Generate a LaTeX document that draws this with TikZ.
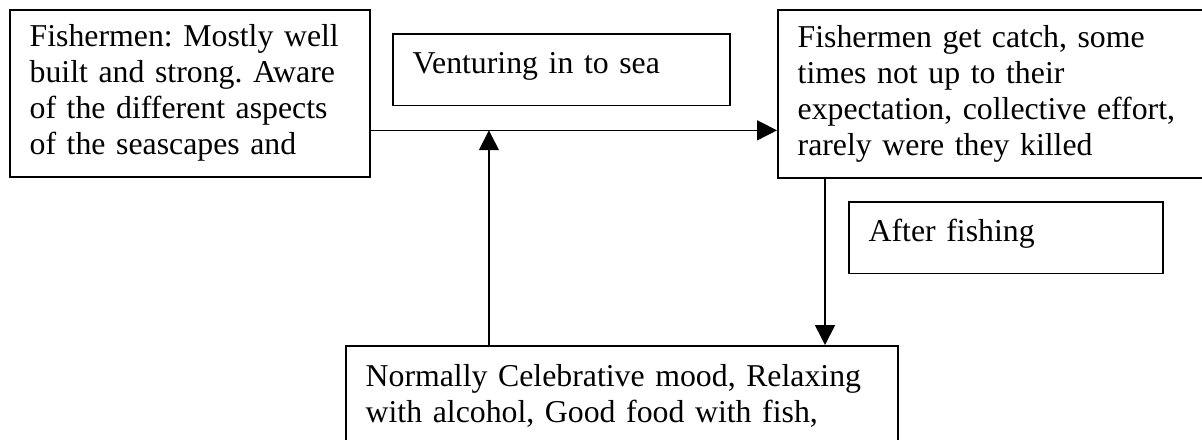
\documentclass[tikz,border=0pt]{standalone}
\usepackage{fontspec}
\setmainfont{Liberation Serif}
\usetikzlibrary{arrows.meta,calc}
\frenchspacing

\tikzset{
  stage/.style={draw, line width=0.6pt, anchor=north west, align=left,
    inner xsep=7.5pt, font=\fontsize{12}{13.6}\selectfont},
  tag/.style={text height=12pt, text depth=9pt, inner ysep=3pt},
  flow/.style={line width=0.6pt, -{Triangle[length=7.5pt,width=7.5pt]}}
}

\begin{document}
\begin{tikzpicture}[x=0.3774pt, y=-0.3774pt]

    \path[use as bounding box, clip] (0,0) rectangle (1202,439);

    \node[stage, text width=120.9pt, minimum height=63pt] (fishermen) at (9,9)
      {Fishermen: Mostly well\\built and strong. Aware\\of the different aspects\\of the seascapes and};

    \node[stage, tag, text width=112.2pt] (venture) at (392,33) {Venturing in to sea};

    \node[stage, text width=151.1pt, minimum height=63.4pt] (catch) at (777,9)
      {Fishermen get catch, some\\times not up to their\\expectation, collective effort,\\rarely were they killed};

    \node[stage, tag, text width=103.5pt] (after) at (848,201) {After fishing};

    \node[stage, text width=193.3pt, inner ysep=6.9pt] (mood) at (345,345)
      {Normally Celebrative mood, Relaxing\\with alcohol, Good food with fish,};



    \coordinate (sea) at ($(fishermen.north east)!0.72!(fishermen.south east)$);
    \draw[flow] (sea) -- (sea -| catch.west);

    \coordinate (rise) at ($(mood.north west)!0.26!(mood.north east)$);
    \draw[flow] (rise) -- (rise |- sea);

    \coordinate (drop) at ($(catch.south west)+(48,0)$);
    \draw[flow] (drop) -- (drop |- mood.north);

  \end{tikzpicture}
\end{document}
